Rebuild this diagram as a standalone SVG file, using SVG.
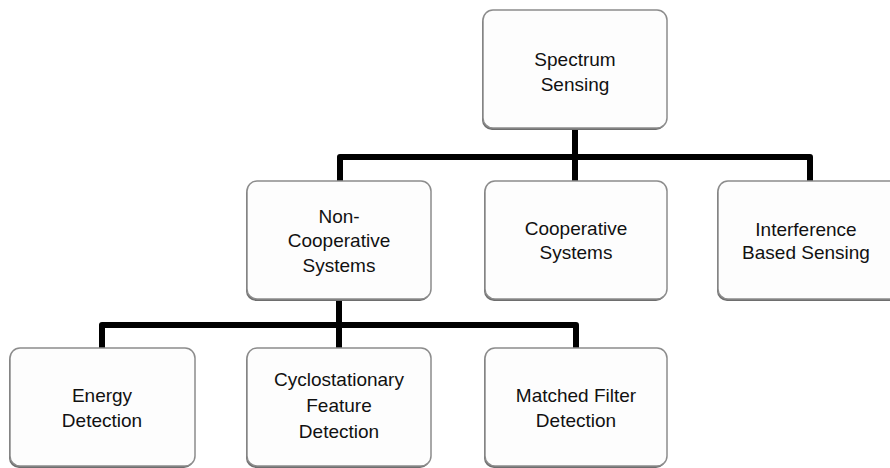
<svg xmlns="http://www.w3.org/2000/svg" width="890" height="468" viewBox="0 0 890 468">
  <style>
    .shadow { fill: #6e6e6e; }
    .box { fill: #fdfdfd; stroke: #8c8c8c; stroke-width: 1.5; }
    .label { font-family: "Liberation Sans", "DejaVu Sans", sans-serif; font-size: 19px; fill: #111; text-anchor: middle; }
    .wire { fill: none; stroke: #000; stroke-width: 6; stroke-linejoin: round; }
  </style>
  <defs>
    <rect id="card" width="184" height="118" rx="10" ry="10"/>
  </defs>
  <rect width="890" height="468" fill="#ffffff"/>

  <!-- tree connectors -->
  <g id="connectors">
    <path class="wire" d="M575 128 V181"/>
    <path class="wire" d="M340 181 V157 H810 V181"/>
    <path class="wire" d="M339 299 V348"/>
    <path class="wire" d="M102 348 V325 H576 V348"/>
  </g>

  <g id="spectrum-sensing">
    <rect class="shadow" x="482" y="12" width="184" height="118" rx="10"/>
    <rect class="box" x="483" y="10" width="184" height="118" rx="10"/>
    <text class="label" x="575" y="66">Spectrum</text>
    <text class="label" x="575" y="91">Sensing</text>
  </g>

  <g id="non-cooperative">
    <rect class="shadow" x="246" y="183" width="184" height="118" rx="10"/>
    <rect class="box" x="247" y="181" width="184" height="118" rx="10"/>
    <text class="label" x="339" y="223">Non-</text>
    <text class="label" x="339" y="247">Cooperative</text>
    <text class="label" x="339" y="272">Systems</text>
  </g>

  <g id="cooperative">
    <rect class="shadow" x="484" y="183" width="182" height="118" rx="10"/>
    <rect class="box" x="485" y="181" width="182" height="118" rx="10"/>
    <text class="label" x="576" y="235">Cooperative</text>
    <text class="label" x="576" y="259">Systems</text>
  </g>

  <g id="interference">
    <rect class="shadow" x="717" y="183" width="184" height="118" rx="10"/>
    <rect class="box" x="718" y="181" width="184" height="118" rx="10"/>
    <text class="label" x="806" y="236">Interference</text>
    <text class="label" x="806" y="259">Based Sensing</text>
  </g>

  <g id="energy-detection">
    <rect class="shadow" x="9" y="350" width="185" height="118" rx="10"/>
    <rect class="box" x="10" y="348" width="185" height="118" rx="10"/>
    <text class="label" x="102" y="402">Energy</text>
    <text class="label" x="102" y="427">Detection</text>
  </g>

  <g id="cyclostationary">
    <rect class="shadow" x="246" y="350" width="184" height="118" rx="10"/>
    <rect class="box" x="247" y="348" width="184" height="118" rx="10"/>
    <text class="label" x="339" y="386">Cyclostationary</text>
    <text class="label" x="339" y="412">Feature</text>
    <text class="label" x="339" y="438">Detection</text>
  </g>

  <g id="matched-filter">
    <rect class="shadow" x="484" y="350" width="182" height="118" rx="10"/>
    <rect class="box" x="485" y="348" width="182" height="118" rx="10"/>
    <text class="label" x="576" y="402">Matched Filter</text>
    <text class="label" x="576" y="427">Detection</text>
  </g>
</svg>
